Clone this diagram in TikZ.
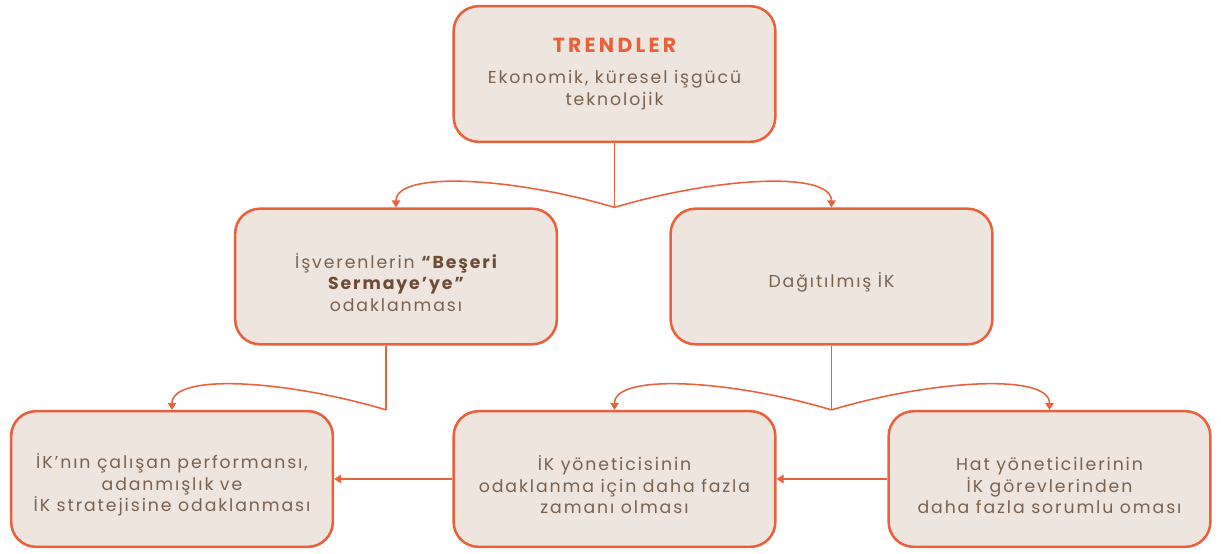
\documentclass[tikz,border=0pt]{standalone}
\usepackage{fontspec}
\setmainfont[LetterSpace=11]{Poppins}
\usepackage{tikz}
\usetikzlibrary{arrows.meta}
\definecolor{ikorange}{HTML}{E9603A}
\definecolor{ikfill}{HTML}{EEE5DE}
\definecolor{iktext}{HTML}{7A624F}
\definecolor{ikbold}{HTML}{6E4C36}
\tikzset{
  card/.style={rounded corners=0.62cm, draw=ikorange, line width=1.8pt, fill=ikfill,
    minimum width=8.04cm, minimum height=3.39cm, text=iktext, align=center,
    font=\fontsize{12.3}{15.2}\selectfont},
  link/.style={draw=ikorange, line width=1.1pt},
  ikhead/.tip={Triangle[width=6pt,length=5pt]}
}
\def\card{\node[card]}
\def\drawlink{\draw[link]}
\def\cardstrut{\rule{0pt}{19pt}}

\begin{document}
\begin{tikzpicture}[x=0.025cm,y=-0.025cm]
\useasboundingbox (0,0) rectangle (1221,553);
\card (trend) at (614.5,74) {{\color{ikorange}\bfseries\fontsize{14.5}{16}\selectfont
  \addfontfeature{LetterSpace=16}TRENDLER}\\[7pt]
  Ekonomik, küresel işgücü\\ teknolojik};
\card (capital) at (396,276.5) {\cardstrut İşverenlerin {\bfseries\color{ikbold}“Beşeri}\\
  {\bfseries\color{ikbold}Sermaye’ye”}\\ odaklanması};
\card (spread) at (831.5,276.5) {\cardstrut Dağıtılmış İK};
\card (perf) at (172,479) {\cardstrut İK’nın çalışan performansı,\\ adanmışlık ve\\ İK stratejisine odaklanması};
\card (hrtime) at (614.5,479) {\cardstrut İK yöneticisinin\\ odaklanma için daha fazla\\ zamanı olması};
\card (linemgr) at (1049.5,479) {\cardstrut Hat yöneticilerinin\\ İK görevlerinden\\ daha fazla sorumlu oması};

% splits
\coordinate (split1) at (trend.south |- capital.north);
\coordinate (split2) at ([xshift=-7]capital.south |- perf.north);
\coordinate (split3) at (spread.south |- hrtime.north);

\drawlink (trend.south) -- (split1);
\drawlink[-ikhead] (split1) .. controls +(-100,-30) and +(0,-37) .. (capital.north);
\drawlink[-ikhead] (split1) .. controls +(100,-30) and +(0,-37) .. (spread.north);

\drawlink (split2 |- capital.south) -- (split2);
\drawlink[-ikhead] (split2) .. controls +(-100,-30) and +(0,-37) .. (perf.north);

\drawlink (spread.south) -- (split3);
\drawlink[-ikhead] (split3) .. controls +(-100,-30) and +(0,-37) .. (hrtime.north);
\drawlink[-ikhead] (split3) .. controls +(100,-30) and +(0,-37) .. (linemgr.north);

\drawlink[-ikhead] (linemgr.west) -- (hrtime.east);
\drawlink[-ikhead] (hrtime.west) -- (perf.east);
\end{tikzpicture}
\end{document}
